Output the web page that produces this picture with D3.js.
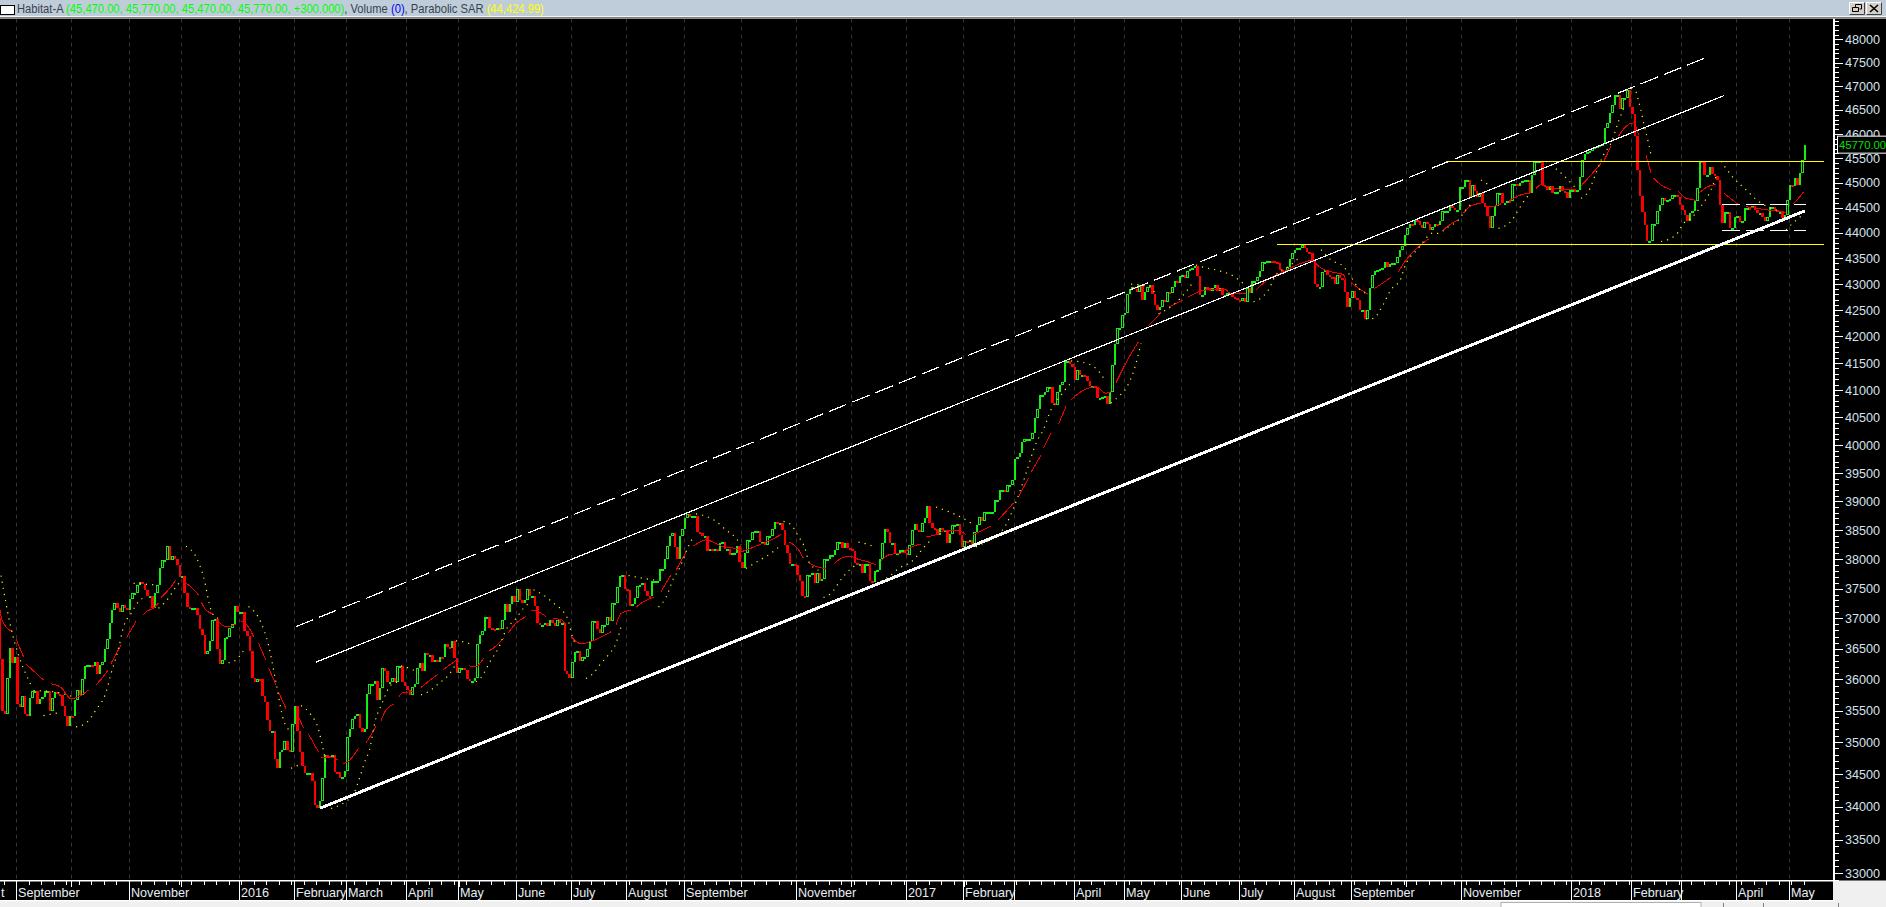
<!DOCTYPE html>
<html><head><meta charset="utf-8">
<script src="https://cdn.jsdelivr.net/npm/d3@7/dist/d3.min.js"></script>
<style>html,body{margin:0;padding:0;background:#f0f0f0;overflow:hidden}svg{display:block}
text{font-family:"Liberation Sans",Arial,sans-serif}</style></head><body><svg id="c" width="1886" height="907"></svg>
<script>
const firstOpen = 37000;
const closes = [
36330,35490,35450,36020,36510,36260,36370,35610,35560,35740,
35440,35420,35700,35810,35810,35600,35680,35710,35810,35810,
35490,35700,35790,35770,35750,35580,35410,35250,35420,35410,
35670,35830,35750,36000,36220,36230,36230,36220,36280,36090,
36230,36280,36490,36660,36930,37140,37250,37180,37110,37230,
37180,37140,37320,37420,37420,37560,37610,37580,37480,37380,
37380,37170,37430,37560,37840,37980,37990,38220,37980,38050,
38010,37900,37700,37720,37430,37190,37180,37180,37180,37050,
36820,36720,36420,36470,36630,36970,36990,36490,36250,36310,
36670,36690,36840,36910,37200,37110,37110,37110,36790,36710,
36470,36030,35950,36010,36000,35740,35640,35350,35170,35180,
34730,34600,34850,34870,35010,34870,34850,35280,35580,35170,
34850,34620,34520,34520,34520,34390,34030,33975,34080,34440,
34800,34775,34760,34790,34540,34530,34440,34460,34550,35080,
35200,35370,35420,35450,35220,35160,35200,35760,35920,35920,
35970,35670,35860,36180,36140,35960,35960,36030,35960,36220,
36220,35950,35890,35830,35750,35880,35920,36190,36260,36140,
36430,36400,36400,36290,36320,36290,36370,36360,36570,36520,
36510,36630,36340,36100,36190,36190,36150,36010,35980,35980,
36030,36570,36720,36790,37030,37030,36840,36820,36810,36840,
36820,36970,37240,37100,37240,37380,37280,37490,37310,37260,
37310,37490,37380,37380,37210,36930,36890,36890,36920,36870,
36980,36930,36870,36980,36920,36920,36140,36080,36030,36280,
36440,36470,36300,36360,36360,36490,36630,36960,36960,36820,
36760,36890,36890,37030,36960,37250,37250,37520,37710,37730,
37490,37480,37210,37240,37340,37550,37560,37590,37460,37380,
37370,37620,37620,37620,37830,37830,38000,38230,38400,38450,
38200,38000,38400,38510,38700,38780,38730,38750,38750,38460,
38450,38390,38390,38130,38170,38160,38170,38140,38270,38290,
38170,38170,38070,38100,38100,38230,37950,37850,38100,38330,
38330,38470,38490,38490,38300,38300,38250,38390,38390,38510,
38640,38620,38620,38500,38240,38110,37920,37920,37900,37730,
37620,37370,37350,37730,37730,37760,37590,37770,37620,37660,
38000,38010,38070,38070,38160,38290,38290,38190,38280,38190,
38170,38140,37940,37920,37920,37770,37920,37920,37620,37610,
37790,37820,38000,38270,38510,38470,38280,38280,38100,38100,
38160,38160,38100,38070,38240,38500,38610,38500,38470,38630,
38710,38920,38630,38540,38520,38420,38530,38500,38500,38270,
38430,38580,38580,38600,38420,38200,38310,38300,38330,38210,
38470,38580,38720,38660,38810,38820,38820,38820,39020,39020,
39200,39200,39170,39290,39290,39380,39740,39790,39850,40060,
40110,40110,40110,40220,40480,40660,40900,40900,40960,41060,
41060,40760,40730,40970,41090,41150,41540,41540,41490,41420,
41190,41370,41280,41280,41260,41170,41070,41070,41060,40850,
40850,40880,40890,40740,40960,41470,41850,42150,42150,42400,
42450,42800,42900,42950,42900,42850,42980,42700,42850,42950,
42980,42800,42600,42500,42550,42700,42650,42850,42820,42950,
43050,43020,43150,43180,43120,43250,43300,43320,43350,43150,
42790,42790,42950,42930,42870,42930,42990,42870,42920,42780,
42790,42820,42820,42750,42730,42690,42680,42730,42650,42930,
42820,43050,43050,43140,43260,43420,43430,43450,43450,43440,
43420,43400,43270,43240,43260,43340,43480,43600,43670,43700,
43700,43760,43700,43630,43600,43470,43010,42940,42940,43240,
43270,43180,43140,43130,43010,43180,43110,43080,42850,42550,
42740,42870,42730,42690,42500,42500,42330,42500,42920,43180,
43260,43270,43290,43310,43420,43330,43390,43400,43400,43520,
43670,43750,43950,44100,44170,44150,44250,44230,44150,44100,
44220,44180,44050,44120,44180,44150,44230,44430,44440,44440,
44530,44490,44450,44450,44910,44910,45060,45060,44710,44960,
44830,44710,44790,44590,44510,44330,44090,44340,44540,44790,
44790,44590,44590,44640,44630,44980,44980,44930,44990,45030,
45060,45060,44790,45160,45420,45440,45440,44960,44940,44860,
44930,44790,44810,44810,44940,44830,44820,44690,44850,44860,
44850,44860,45120,45470,45590,45630,45660,45710,45740,45760,
45780,45790,46120,46220,46430,46600,46810,46810,46530,46740,
46740,46920,46570,46410,45950,45270,44730,44410,44160,43840,
43840,44170,44170,44430,44560,44690,44630,44650,44670,44760,
44760,44710,44560,44450,44360,44230,44400,44430,44630,44890,
45440,45420,45150,45150,45330,45180,45130,45050,44560,44190,
44410,44410,44090,44090,44310,44330,44210,44230,44500,44500,
44490,44540,44450,44390,44390,44320,44240,44320,44510,44510,
44460,44420,44420,44290,44360,44660,44960,44930,45090,44960,
45210,45470,45770];

const maLine = [[0,37320],[1,37040],[2,36920],[6,36770],null,[7,36660],[10,36370],null,[11,36250],[18,35990],null,
[21,35930],[25,35870],[29,35690],[33,35740],[36,35830],null,[39,35910],[41,36000],[44,36160],null,[45,36260],[49,36560],null,
[51,36670],[55,36950],null,[58,37060],[59,37110],[62,37170],[64,37260],null,[65,37350],[69,37530],[71,37650],null,
[74,37610],[77,37530],[80,37390],null,[81,37280],[83,37140],[86,37070],null,[88,36950],[91,36860],[95,36900],null,
[97,36960],[100,36860],[102,36700],null,[104,36590],[107,36310],null,[108,36190],[111,35910],null,[112,35800],[115,35530],null,
[120,35400],[122,35220],null,[124,35130],[126,34985],[128,34850],null,[129,34750],[133,34760],[136,34715],null,
[138,34660],[140,34700],[144,34905],null,[147,34985],[149,35115],[151,35250],null,[153,35340],[155,35510],[158,35600],null,
[160,35710],[162,35790],[166,35800],null,[169,35870],[173,36000],[176,36090],null,[178,36160],[183,36310],null,
[188,36220],[191,36210],[194,36345],null,[196,36455],[199,36545],[202,36670],null,[204,36765],[207,36920],[211,37030],null,
[213,37140],[216,37110],[219,37030],null,[222,37000],[225,36980],[227,36890],null,[229,36700],[233,36580],[237,36620],[240,36670],[245,36780],null,
[247,36900],[249,37080],[253,37140],null,[255,37190],[258,37280],[262,37350],null,[265,37450],[269,37730],null,[271,37810],[275,38120],null,
[278,38230],[281,38300],[283,38330],[286,38290],[290,38210],[295,38180],[297,38130],[300,38170],[304,38240],[309,38330],[313,38420],null,
[316,38300],[320,38160],[322,38010],null,[324,37940],[328,37860],[331,37840],null,[334,37910],[337,38010],[341,38050],[343,38010],[348,37950],[351,37900],null,
[353,37970],[356,38070],[360,38100],[362,38110],[365,38200],[369,38260],null,[371,38380],[375,38420],[379,38500],[383,38500],[387,38420],null,
[390,38420],[397,38570],null,[400,38680],[406,38970],null,[408,39080],[412,39410],null,[413,39510],[417,39820],null,[418,39940],[421,40220],null,
[424,40370],[427,40700],null,[429,40820],[433,40970],[439,41060],[443,40940],[445,40970],null,[447,41140],[452,41590],[456,41900],null,
[460,42200],[465,42450],null,[468,42550],[474,42700],null,[476,42750],[480,42850],[485,42900],[491,42900],[492,42830],[499,42810],null,
[503,42885],[509,43130],[513,43210],[518,43340],[522,43420],[525,43460],[526,43440],[529,43310],[533,43240],[538,43180],[539,43050],null,
[541,43030],[544,42920],[548,42800],null,[550,42900],[554,43030],[557,43130],null,[560,43240],[562,43400],[565,43580],[567,43680],[572,43880],null,
[578,44060],[581,44180],[584,44260],null,[586,44390],[589,44540],[593,44590],null,[595,44530],[598,44530],[601,44580],null,[604,44630],[609,44760],[613,44800],null,
[615,44890],[617,44960],[621,44910],[627,44860],[631,44860],null,[633,44940],[637,45160],[641,45400],null,[642,45430],[645,45750],null,
[648,45950],[651,46160],[654,46230],[656,45980],null,[659,45570],[661,45200],null,[662,45100],[665,44960],[669,44860],null,
[672,44830],[675,44690],[679,44650],null,[680,44790],[684,44930],[687,44970],null,[690,44800],[696,44560],null,[699,44520],[707,44460],[715,44410],null,[718,44580],[720,44690],[722,44820]];

const sarLine = [[1,37720],[3,37250],[5,36840],[8,36400],[13,35910],null,[14,35820],[22,35800],[30,35720],null,[18,35420],[25,35470],null,
[31,35240],[35,35300],[39,35510],[43,35790],[45,36090],[48,36500],[50,36860],[53,37080],[56,37280],[59,37360],null,[54,37590],[63,37560],null,
[64,37170],[68,37340],[71,37530],[73,37630],null,[75,38220],[79,38040],[82,37700],[85,37140],[87,37010],[89,37000],null,
[92,36270],[94,36290],[99,36530],null,[100,37200],[105,36930],[108,36560],[111,35950],[114,35350],[116,35200],null,[117,34590],[120,34640],null,
[121,35580],[125,35430],[128,35200],[129,35040],[131,34670],null,[133,33970],[139,34080],[142,34185],[144,34390],[147,34740],[148,34825],[151,35380],[153,35575],[157,35910],[160,35960],null,
[161,36220],[165,36170],[168,36105],null,[169,35750],[171,35780],[176,35930],[180,36070],[183,36250],null,[183,36630],[188,36590],[190,36540],null,
[191,35960],[193,36030],[197,36315],[200,36510],[203,36810],[207,37000],[210,37170],[213,37280],null,[214,37480],[218,37390],[223,37220],[226,37110],[228,36950],[229,36780],[231,36545],null,
[235,36015],[239,36150],[240,36210],[244,36400],[247,36590],[249,36860],null,[252,37720],[257,37680],[263,37640],null,[264,37190],[267,37350],[270,37670],[272,37810],[276,38220],[278,38390],null,
[279,38780],[283,38740],[287,38650],[291,38500],[295,38360],[297,38240],null,[299,37840],[304,37970],[309,38100],[313,38240],null,
[314,38650],[317,38590],[320,38390],[323,38130],[324,37960],[328,37810],null,[330,37350],[333,37420],[337,37650],[341,37840],[344,37920],null,
[344,38290],[348,38250],[351,38190],null,[353,37620],[357,37730],[360,37840],[365,37950],[371,38240],[373,38330],null,
[375,38900],[380,38820],[386,38700],[390,38590],null,[391,38210],[395,38290],[399,38390],[403,38590],[406,38880],[409,39230],[411,39490],[415,40030],[418,40280],[421,40640],[425,40910],[429,41130],null,
[429,41540],[433,41520],[439,41400],[443,41150],null,[445,40760],[448,40880],[451,41030],[454,41340],[457,41870],null,
[453,43000],[460,42950],[463,42800],null,[464,42430],[470,42600],[475,42850],[478,43050],null,[479,43370],[481,43340],[488,43260],[493,43180],[498,43010],null,
[502,42660],[505,42730],[508,42890],[511,43180],[516,43340],[520,43500],null,[529,43670],[533,43470],[538,43340],[541,43140],[544,42920],[547,42820],null,
[547,42330],[550,42340],[553,42530],[557,42890],[561,43110],[562,43270],[568,43700],[574,44000],[576,43990],[579,44090],[584,44260],[587,44460],[590,44630],null,
[593,45060],[597,44930],null,[600,44090],[605,44230],[608,44460],[611,44690],[613,44800],null,[619,45440],[625,45200],[631,44890],null,
[633,44690],[636,44830],[639,45200],[642,45570],[645,45810],[648,46260],[650,46530],null,[653,46950],[655,46880],[656,46690],[657,46490],[658,46240],[660,45810],[661,45570],null,
[665,43830],[671,43960],[674,44190],[677,44290],[681,44530],[685,44860],[687,45130],null,[689,45440],[693,45160],[699,44860],[704,44630],[709,44490],[713,44430],null,
[715,44060],[717,44160],[721,44330]];

const supportLine = [[128.6,33975],[722.6,44438]];
const channelLine = [[127,36280],[690.2,46800]];
const dashedLine = [[119,36864],[682.2,47590]];
const yellowUpper = [[579,45441],[730.2,45441]];
const yellowLower = [[511.4,43778],[730.2,43778]];
const boxUpper = [[689.4,44572],[723,44572]];
const boxLower = [[689.4,44052],[723,44052]];

const monthStarts = [0,7,29,52,73,96,118,139,163,184,207,229,251,274,297,319,341,363,386,406,430,450,473,496,518,541,563,585,607,629,653,673,695,716];
const monthLabels = ["t","September",null,"November",null,"2016","February","March","April","May","June","July","August","September",null,"November",null,"2017","February","","April","May","June","July","August","September",null,"November",null,"2018","February","","April","May"];
const majorPrices = d3.range(33000,48001,500);
const minorPrices = d3.range(32900,48401,100);
const titleParts = [["Habitat-A ","#39424c"],["(45,470.00, 45,770.00, 45,470.00, 45,770.00, +300.000)","#00ff00"],[", Volume ","#39424c"],["(0)","#0000ff"],[", Parabolic SAR ","#39424c"],["(44,424.99)","#ffff00"]];
const lastPriceLabel = "45770.00";
const lastPrice = 45770;

const W=1886,H=907,plotR=1833,plotT=18.7,plotB=880.5;
const svg=d3.select("#c");
const x=d3.scaleLinear().domain([0,723]).range([-1.5,1806]);
const y=d3.scaleLog().domain([48000,33000]).range([39.3,873]);

svg.append("rect").attr("width",W).attr("height",H).attr("fill","#f0f0f0");
svg.append("rect").attr("y",plotT).attr("width",W).attr("height",plotB-plotT).attr("fill","#000");
svg.append("rect").attr("y",880).attr("width",plotR).attr("height",21).attr("fill","#000");
svg.append("clipPath").attr("id","plot").append("rect").attr("x",0).attr("y",plotT).attr("width",plotR).attr("height",plotB-plotT);

// title bar
const tb=svg.append("g");
tb.append("rect").attr("width",W).attr("height",16).attr("fill","#bfcddb");
tb.append("rect").attr("y",16).attr("width",W).attr("height",1).attr("fill","#f4f4f4");
tb.append("rect").attr("y",17).attr("width",W).attr("height",1.7).attr("fill","#808080");
tb.append("rect").attr("x",.5).attr("y",5.5).attr("width",14).attr("height",9).attr("fill","#fff").attr("stroke","#000");
const tt=tb.append("text").attr("y",13.2).attr("font-size",12.6);
tt.selectAll("tspan").data(titleParts).join("tspan").attr("fill",d=>d[1]).text(d=>d[0]);
tt.attr("transform",`translate(17,0) scale(${527/tt.node().getComputedTextLength()},1)`);
[1849,1866].forEach((bx,k)=>{
  tb.append("rect").attr("x",bx+.5).attr("y",2.5).attr("width",15).attr("height",12).attr("fill","#d4d0c8").attr("stroke","#fff");
  tb.append("path").attr("d",`M${bx+15.5} 2.5V14.5H${bx+.5}`).attr("fill","none").attr("stroke","#404040");
  if(k==0) tb.append("path").attr("d",`M${bx+6.5} 7V4.5h6v4.5h-2M${bx+3.5} 7.5h6v4h-6z`).attr("fill","none").attr("stroke","#000");
  else tb.append("path").attr("d",`M${bx+4} 5L${bx+12} 12M${bx+12} 5L${bx+4} 12`).attr("fill","none").attr("stroke","#000").attr("stroke-width",1.6);
});

const plot=svg.append("g").attr("clip-path","url(#plot)");
// grid
plot.selectAll("line.g").data(monthStarts.slice(1)).join("line").attr("class","g")
 .attr("x1",d=>Math.round(x(d))+.5).attr("x2",d=>Math.round(x(d))+.5).attr("y1",plotT).attr("y2",plotB)
 .attr("stroke","#333").attr("stroke-dasharray","4 4");

// candles: each opens on the previous close
const bars=closes.map((c,i)=>{const o=i?closes[i-1]:firstOpen;
  const L=Math.round(x(i)),R=Math.round(x(i+1));
  let t=Math.round(y(Math.max(o,c))),b=Math.round(y(Math.min(o,c)));
  if(b-t<2)b=t+2;
  return {up:c>=o,L,w:R-L,t,h:b-t};});
const cg=plot.append("g").attr("shape-rendering","crispEdges");
cg.selectAll("rect.b").data(bars).join("rect").attr("class","b")
 .attr("x",d=>d.L).attr("y",d=>d.t).attr("width",d=>d.w).attr("height",d=>d.h)
 .attr("fill",d=>d.up?"#14f014":"#ff0000");
cg.selectAll("rect.h").data(bars.filter(d=>d.up&&d.w>=3&&d.h>=3)).join("rect").attr("class","h")
 .attr("x",d=>d.L+1).attr("y",d=>d.t+1).attr("width",d=>d.w-2).attr("height",d=>d.h-2).attr("fill","#000");

const line=d3.line().defined(d=>d).x(d=>x(d[0])).y(d=>y(d[1]));
const smooth=d3.line().defined(d=>d).x(d=>x(d[0])).y(d=>y(d[1])).curve(d3.curveMonotoneX);
// MA and SAR
plot.append("path").attr("d",smooth(maLine)).attr("fill","none").attr("stroke","#f00000").attr("stroke-width",1).attr("shape-rendering","crispEdges");
plot.append("path").attr("d",smooth(sarLine)).attr("fill","none").attr("stroke","#ffff00").attr("stroke-width",1.2).attr("stroke-dasharray","1.2 5");
// drawn lines
const drawn=[[yellowUpper,"#ffff00",1,null],[yellowLower,"#ffff00",1,null],[channelLine,"#fff",1.2,null],[dashedLine,"#fff",1.2,"18.5 6.5"],[supportLine,"#fff",3,null],[boxUpper,"#fff",1,"18 6"],[boxLower,"#fff",1,"18 6"]];
drawn.forEach(d=>plot.append("path").attr("d",line(d[0])).attr("fill","none").attr("stroke",d[1]).attr("stroke-width",d[2]).attr("stroke-dasharray",d[3]).attr("shape-rendering","crispEdges"));

// y axis
const axY=svg.append("g").attr("transform",`translate(${plotR+1},0)`);
const yMinor=d3.axisRight(y).tickValues(minorPrices.filter(v=>y(v)>plotT+1&&y(v)<plotB)).tickSize(5).tickFormat("");
const yMajor=d3.axisRight(y).tickValues(majorPrices).tickSize(9).tickPadding(2).tickFormat(d3.format("d"));
axY.append("g").call(yMinor);axY.append("g").call(yMajor);
axY.selectAll(".domain").remove();
axY.selectAll("line").attr("stroke","#fff").attr("shape-rendering","crispEdges");
axY.selectAll("text").attr("fill","#d6e2ee").attr("font-size",12.6).attr("font-family",'"Liberation Sans",Arial,sans-serif');
svg.append("rect").attr("x",plotR).attr("y",plotT).attr("width",2).attr("height",plotB-plotT+1).attr("fill","#fff");

// x axis
const axX=svg.append("g");
axX.append("rect").attr("y",880).attr("width",plotR+2).attr("height",1.5).attr("fill","#fff");
axX.append("rect").attr("y",900).attr("width",plotR+2).attr("height",1.3).attr("fill","#fff");
const weekBars=d3.range(2,723,5);
const xMinor=d3.axisBottom(x).tickValues(weekBars).tickSize(5).tickFormat("");
const xMonth=d3.axisBottom(x).tickValues(monthStarts.slice(1)).tickSize(7).tickFormat("");
axX.append("g").attr("transform","translate(0,880)").call(xMinor);
axX.append("g").attr("transform","translate(0,880)").call(xMonth);
axX.selectAll(".domain").remove();
axX.selectAll("line").attr("stroke","#fff").attr("shape-rendering","crispEdges");
const monthRows=monthStarts.map((m,i)=>({m,l:monthLabels[i]})).filter(d=>d.l!==null);
axX.selectAll("rect.s").data(monthRows).join("rect").attr("class","s").attr("x",d=>Math.round(x(d.m))).attr("y",880).attr("width",1).attr("height",20).attr("fill","#fff");
axX.selectAll("text.m").data(monthRows).join("text").attr("class","m").attr("x",d=>Math.max(0,Math.round(x(d.m))+2)).attr("y",897).attr("fill","#e8eef4").attr("font-size",12.6).text(d=>d.l);

// bottom strip pieces
svg.append("rect").attr("x",1501).attr("y",902.5).attr("width",200).attr("height",5).attr("fill","#fff").attr("stroke","#b0b0b0");
svg.append("rect").attr("x",1723).attr("y",903).attr("width",1).attr("height",4).attr("fill","#808080");
svg.append("rect").attr("x",1763).attr("y",903).attr("width",1).attr("height",4).attr("fill","#808080");
svg.append("rect").attr("x",1838).attr("y",903).attr("width",1).attr("height",4).attr("fill","#808080");

// last price label
const ly=y(lastPrice);
svg.append("rect").attr("x",1837.5).attr("y",ly-9).attr("width",49).attr("height",17).attr("fill","#000").attr("stroke","#fff");
svg.append("text").attr("x",1839).attr("y",ly+4).attr("fill","#00e000").attr("font-size",11.3).text(lastPriceLabel);
</script></body></html>
